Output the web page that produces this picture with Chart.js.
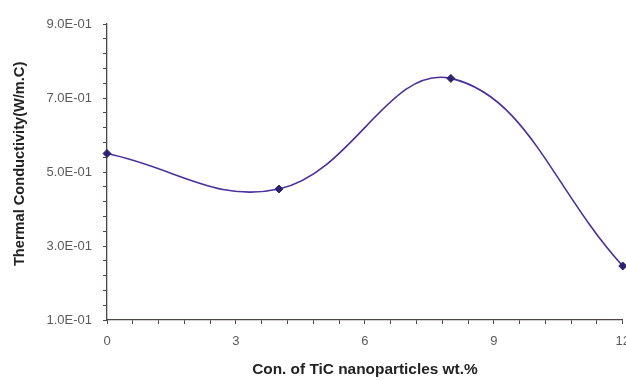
<!DOCTYPE html>
<html>
<head>
<meta charset="utf-8">
<script src="https://cdn.jsdelivr.net/npm/chart.js@4/dist/chart.umd.min.js"></script>
<style>
  html, body { margin: 0; padding: 0; background: #ffffff; overflow: hidden; }
  #wrap { position: relative; width: 640px; height: 380px; }
</style>
</head>
<body>
<div id="wrap"><canvas id="chart"></canvas></div>
<script>
// TiC nanoparticle concentration (wt.%) and measured thermal conductivity (W/m.C)
const concentrations = [0, 4, 8, 12];
const conductivity = [0.55, 0.454, 0.753, 0.246];

// Axis ranges and tick spacing (labelled ticks every 3 wt.% / 0.2 W/m.C, minor marks between)
const xMin = 0, xMax = 12, xMinorStep = 0.6, xLabelStep = 3;
const yMin = 0.1, yMax = 0.9, yMinorStep = 0.04, yLabelStep = 0.2;

const xTitle = 'Con. of TiC nanoparticles wt.%';
// leading spaces nudge the rotated title up along the axis
const yTitle = '    Thermal Conductivity(W/m.C)';

function isLabelled(v, origin, step) {
  const k = (v - origin) / step;
  return Math.abs(k - Math.round(k)) < 1e-6;
}

// 0.5 -> "5.0E-01"
function sci(v) {
  const [m, e] = v.toExponential(1).split('e');
  const n = parseInt(e, 10);
  const sign = n < 0 ? '-' : '+';
  const mag = String(Math.abs(n)).padStart(2, '0');
  return m + 'E' + sign + mag;
}

const axisColor = '#4f4444';
const tickFont = { family: 'Arial, "Liberation Sans", sans-serif', size: 13 };
const titleFontFamily = 'Arial, "Liberation Sans", sans-serif';

new Chart(document.getElementById('chart'), {
  type: 'line',
  data: {
    datasets: [{
      data: concentrations.map((x, i) => ({ x, y: conductivity[i] })),
      borderColor: '#4b2f9b',
      borderWidth: 1.6,
      tension: 0.4,
      pointStyle: 'rectRot',
      pointRadius: 4,
      pointBackgroundColor: '#2b2270',
      pointBorderColor: '#2b2270',
      pointBorderWidth: 1,
      fill: false,
      clip: false
    }]
  },
  options: {
    responsive: true,
    maintainAspectRatio: false,
    animation: false,
    layout: { padding: { top: 24, left: 0, right: 0, bottom: 0 } },
    plugins: { legend: { display: false }, tooltip: { enabled: false } },
    scales: {
      x: {
        type: 'linear',
        min: xMin,
        max: xMax,
        afterFit: s => { s.height = 60; },
        border: { display: true, color: axisColor, width: 1.3 },
        grid: { drawOnChartArea: false, drawTicks: true, tickLength: 4, tickColor: axisColor },
        ticks: {
          stepSize: xMinorStep,
          maxTicksLimit: 100,
          autoSkip: false,
          maxRotation: 0,
          padding: 10,
          color: '#5a5a5a',
          font: tickFont,
          callback: v => isLabelled(v, xMin, xLabelStep) ? String(Math.round(v)) : ''
        },
        title: {
          display: true,
          text: xTitle,
          color: '#222222',
          font: { family: titleFontFamily, size: 15.4, weight: 'bold' },
          padding: { top: 0, bottom: 1 }
        }
      },
      y: {
        type: 'linear',
        min: yMin,
        max: yMax,
        afterFit: s => { s.width = 107; },
        border: { display: true, color: axisColor, width: 1.3 },
        grid: { drawOnChartArea: false, drawTicks: true, tickLength: 4, tickColor: axisColor },
        ticks: {
          stepSize: yMinorStep,
          maxTicksLimit: 100,
          autoSkip: false,
          padding: 11,
          color: '#5a5a5a',
          font: tickFont,
          callback: v => isLabelled(v, yMin, yLabelStep) ? sci(v) : ''
        },
        title: {
          display: true,
          text: yTitle,
          color: '#222222',
          font: { family: titleFontFamily, size: 14.6, weight: 'bold' },
          padding: { top: 11, bottom: 0 }
        }
      }
    }
  }
});
</script>
</body>
</html>
